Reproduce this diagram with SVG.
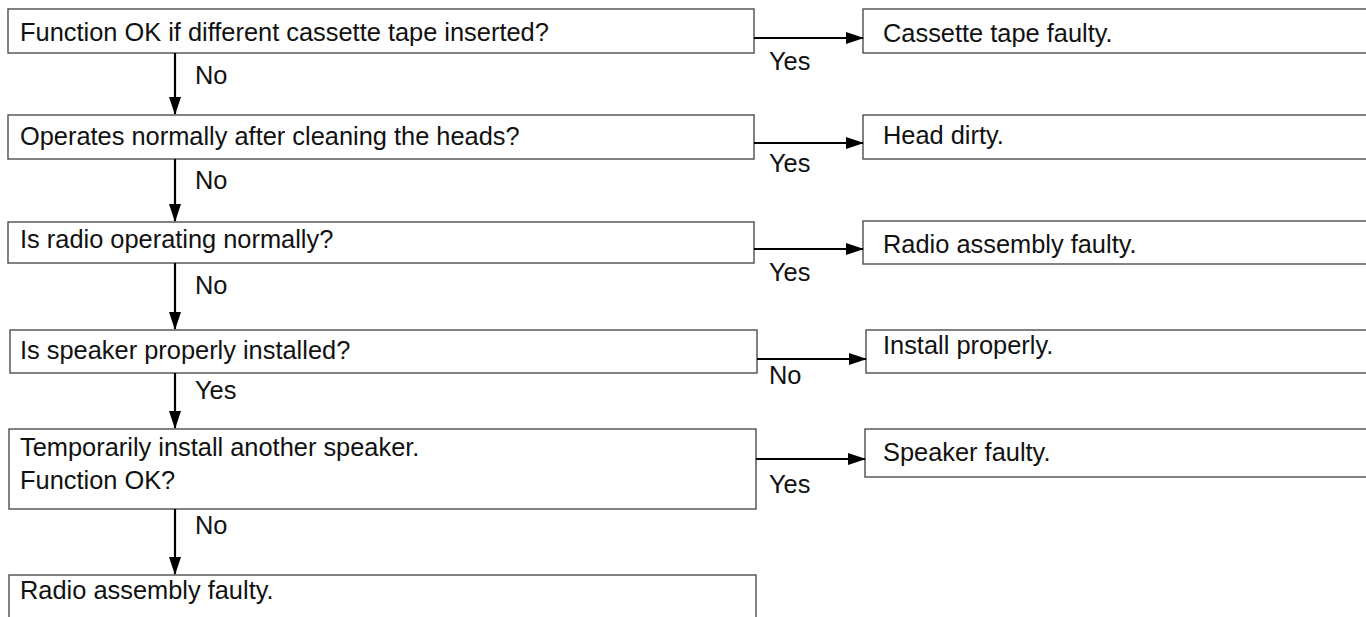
<svg xmlns="http://www.w3.org/2000/svg" width="1366" height="617" viewBox="0 0 1366 617">
<style>
.box{fill:#fff;stroke:#4d4d4d;stroke-width:1.4}
.t{font-family:"Liberation Sans",Arial,sans-serif;font-size:25.4px;fill:#111}
.c{stroke:#000;stroke-width:2.2;fill:none}
</style>
<defs>
<marker id="ah" markerWidth="18" markerHeight="12" refX="17" refY="6" orient="auto" markerUnits="userSpaceOnUse"><path d="M0,0 L18,6 L0,12 Z" fill="#000"/></marker>
</defs>
<rect width="1366" height="617" fill="#fff"/>
<g id="q1"><rect class="box" x="8" y="9" width="746" height="44"/><text class="t" x="20" y="41">Function OK if different cassette tape inserted?</text></g>
<g id="r1"><rect class="box" x="863" y="9" width="520" height="44"/><text class="t" x="883" y="42">Cassette tape faulty.</text></g>
<g id="q2"><rect class="box" x="8" y="115" width="746" height="44"/><text class="t" x="20" y="145">Operates normally after cleaning the heads?</text></g>
<g id="r2"><rect class="box" x="863" y="115" width="520" height="44"/><text class="t" x="883" y="144">Head dirty.</text></g>
<g id="q3"><rect class="box" x="8" y="222" width="746" height="41"/><text class="t" x="20" y="248">Is radio operating normally?</text></g>
<g id="r3"><rect class="box" x="863" y="221" width="520" height="43"/><text class="t" x="883" y="253">Radio assembly faulty.</text></g>
<g id="q4"><rect class="box" x="10" y="330" width="747" height="43"/><text class="t" x="20" y="359">Is speaker properly installed?</text></g>
<g id="r4"><rect class="box" x="866" y="330" width="520" height="43"/><text class="t" x="883" y="354">Install properly.</text></g>
<g id="q5"><rect class="box" x="9" y="429" width="747" height="80"/><text class="t" x="20" y="456">Temporarily install another speaker.</text><text class="t" x="20" y="489">Function OK?</text></g>
<g id="r5"><rect class="box" x="865" y="429" width="520" height="48"/><text class="t" x="883" y="461">Speaker faulty.</text></g>
<g id="r6"><rect class="box" x="9" y="575" width="747" height="60"/><text class="t" x="20" y="599">Radio assembly faulty.</text></g>
<g id="connectors">
<path class="c" d="M175,53 V114" marker-end="url(#ah)"/>
<path class="c" d="M175,159 V221" marker-end="url(#ah)"/>
<path class="c" d="M175,263 V329" marker-end="url(#ah)"/>
<path class="c" d="M175,373 V428" marker-end="url(#ah)"/>
<path class="c" d="M175,509 V574" marker-end="url(#ah)"/>
<path class="c" d="M754,38 H863" marker-end="url(#ah)"/>
<path class="c" d="M754,143 H863" marker-end="url(#ah)"/>
<path class="c" d="M754,249 H863" marker-end="url(#ah)"/>
<path class="c" d="M757,359 H866" marker-end="url(#ah)"/>
<path class="c" d="M756,459 H865" marker-end="url(#ah)"/>
<text class="t" x="195" y="84">No</text>
<text class="t" x="769" y="70">Yes</text>
<text class="t" x="195" y="189">No</text>
<text class="t" x="769" y="172">Yes</text>
<text class="t" x="195" y="294">No</text>
<text class="t" x="769" y="281">Yes</text>
<text class="t" x="195" y="399">Yes</text>
<text class="t" x="769" y="384">No</text>
<text class="t" x="195" y="534">No</text>
<text class="t" x="769" y="493">Yes</text>
</g>
</svg>
